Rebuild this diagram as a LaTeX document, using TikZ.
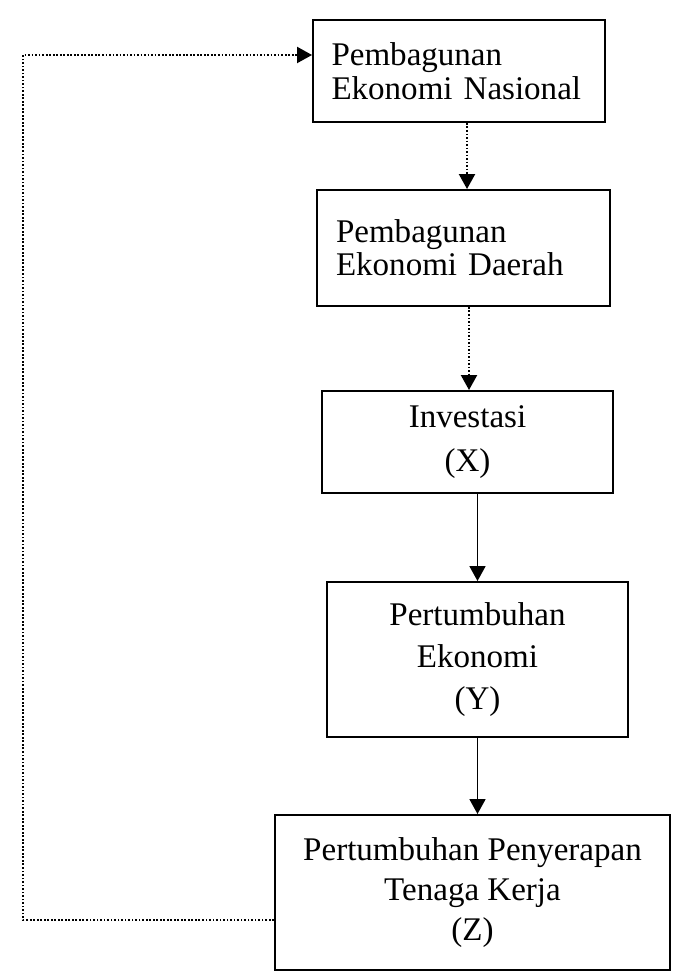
\documentclass[tikz,border=0pt]{standalone}
\usepackage{fontspec}
\setmainfont{Liberation Serif}
\usepackage{tikz}
\usetikzlibrary{arrows.meta,positioning,calc}

\begin{document}
\begin{tikzpicture}[
  box/.style={draw, line width=1.1pt, inner xsep=0.44cm, inner ysep=0pt},
  arr/.style={-{Triangle[width=0.32cm, length=0.3cm]}, line width=1pt},
  dotarr/.style={arr, densely dotted, line width=1.2pt}
]
  \useasboundingbox (0,0) rectangle (13.44,-19.44);

  \node[box, inner xsep=0.37cm, minimum height=2.04cm, text width=5.1cm, align=left,
        font=\fontsize{18.8}{19.3}\selectfont] (nas) at (9.18,-1.42)
        {Pembagunan\\Ekonomi Nasional};
  \node[box, inner xsep=0.38cm, minimum height=2.32cm, text width=5.1cm, align=left,
        font=\fontsize{18.8}{18.7}\selectfont] (dae) at (9.27,-4.96)
        {Pembagunan\\Ekonomi Daerah};
  \node[box, minimum width=5.82cm, minimum height=2.04cm, align=center,
        font=\fontsize{18.8}{25}\selectfont] (inv) at (9.35,-8.84)
        {Investasi\\(X)};
  \node[box, minimum width=6.02cm, minimum height=3.10cm, align=center,
        font=\fontsize{18.8}{23.8}\selectfont] (tum) at (9.55,-13.19)
        {Pertumbuhan\\Ekonomi\\(Y)};
  \node[box, minimum width=7.90cm, minimum height=3.10cm, align=center,
        font=\fontsize{18.8}{22.7}\selectfont] (ker) at (9.45,-17.85)
        {Pertumbuhan Penyerapan\\Tenaga Kerja\\(Z)};

  % downward flow
  \draw[dotarr] ([xshift=1.6mm]nas.south) -- ([xshift=1.6mm]nas.south |- dae.north);
  \draw[dotarr] ([xshift=1.1mm]dae.south) -- ([xshift=1.1mm]dae.south |- inv.north);
  \draw[arr] (tum.north |- inv.south) -- (tum.north);
  \draw[arr] (tum.south) -- (tum.south |- ker.north);

  % feedback to the top
  \draw[dotarr] ([yshift=-5.5mm]ker.west) -- ++(-5.02,0) |- ([yshift=3.2mm]nas.west);
\end{tikzpicture}
\end{document}
